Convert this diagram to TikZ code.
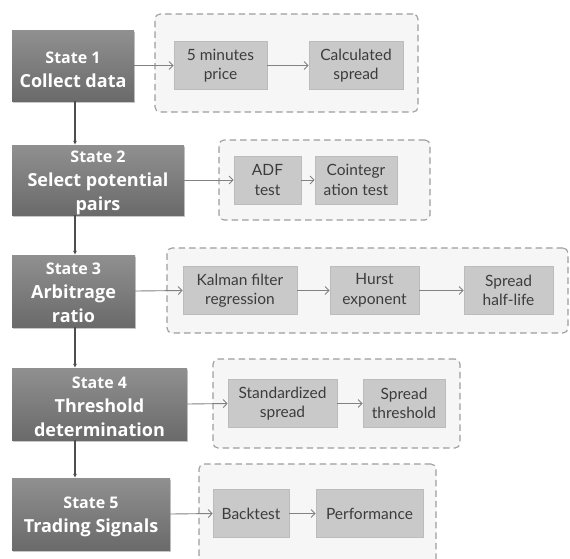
\documentclass[tikz,border=0pt]{standalone}
\usepackage{fontspec}
\newfontfamily\statefont{Open Sans}
\newfontfamily\boxfont{Lato}
\usetikzlibrary{arrows.meta,shadows,positioning}
\definecolor{sttop}{RGB}{144,144,144}
\definecolor{stbot}{RGB}{106,106,106}
\definecolor{inbox}{RGB}{201,201,201}
\definecolor{inborder}{RGB}{188,188,188}
\definecolor{grpfill}{RGB}{246,246,246}
\definecolor{grpline}{RGB}{158,158,158}
\definecolor{arrgray}{RGB}{130,130,130}
\definecolor{vgray}{RGB}{78,78,78}
\definecolor{intext}{RGB}{60,60,60}
\tikzset{
  statebox/.style={draw=none, top color=sttop, bottom color=stbot,
    drop shadow={shadow xshift=1.2pt, shadow yshift=-1.8pt, fill=black, opacity=0.22},
    inner sep=0pt},
  sttext/.style={text=white, align=center, inner sep=0pt, font=\statefont\bfseries\fontsize{18}{24}\selectfont},
  grp/.style={draw=grpline, fill=grpfill, dashed, dash pattern=on 6.5pt off 4pt, line width=1.1pt, rounded corners=5pt, inner sep=0pt},
  inner/.style={draw=inborder, fill=inbox, line width=0.6pt, align=center, inner sep=0pt,
    text=intext, font=\boxfont\fontsize{15.5}{19.5}\selectfont, minimum height=48},
  harr/.style={draw=arrgray, line width=0.9pt, -{Straight Barb[length=4pt,width=8pt]}},
  varr/.style={draw=vgray, line width=1.3pt, -{Latex[length=4pt,width=4pt]}}
}
\newcommand{\stl}[1]{{\fontsize{16}{24}\selectfont #1}}
\begin{document}
\begin{tikzpicture}[x=1pt,y=-1pt]
\useasboundingbox (0,0) rectangle (570,558);
\fill[white] (0,0) rectangle (570,558);
% groups
\node[grp, minimum width=263, minimum height=98] (g1) at (286.5,63) {};
\node[grp, minimum width=211, minimum height=80] (g2) at (324.5,180) {};
\node[grp, minimum width=401, minimum height=85] (g3) at (367.5,290.5) {};
\node[grp, minimum width=247, minimum height=89] (g4) at (336.5,403.5) {};
\node[grp, minimum width=237, minimum height=111] (g5) at (317.5,519.5) {};
% state boxes
\node[statebox, minimum width=122, minimum height=71] (s1) at (73,65.5) {};
\node[statebox, minimum width=172, minimum height=70] (s2) at (98,180) {};
\node[statebox, minimum width=123, minimum height=72] (s3) at (73.5,291) {};
\node[statebox, minimum width=175, minimum height=72] (s4) at (99.5,404) {};
\node[statebox, minimum width=158, minimum height=72] (s5) at (91,514) {};
\node[sttext] (t1) at ([yshift=-4pt]s1.center) {\stl{State 1}\\Collect data};
\node[sttext] (t2) at ([yshift=-3pt]s2.center) {\stl{State 2}\\Select potential\\pairs};
\node[sttext] (t3) at ([yshift=-2pt]s3.center) {\stl{State 3}\\Arbitrage\\ratio};
\node[sttext] (t4) at ([yshift=-3pt]s4.center) {\stl{State 4}\\Threshold\\determination};
\node[sttext] (t5) at ([yshift=-3pt]s5.center) {\stl{State 5}\\Trading Signals};
% inner boxes
\node[inner, minimum width=93] (a1) at (220.5,65.5) {5 minutes\\price};
\node[inner, minimum width=94] (a2) at (356,65.5) {Calculated\\spread};
\node[inner, minimum width=67] (b1) at (267.5,180) {ADF\\test};
\node[inner, minimum width=82] (b2) at (356,180) {Cointegr\\ation test};
\node[inner, minimum width=114] (c1) at (240,290.5) {Kalman filter\\regression};
\node[inner, minimum width=89] (c2) at (374.5,290.5) {Hurst\\exponent};
\node[inner, minimum width=89] (c3) at (508.5,290.5) {Spread\\half-life};
\node[inner, minimum width=109] (d1) at (282.5,403.5) {Standardized\\spread};
\node[inner, minimum width=82] (d2) at (404,403.5) {Spread\\threshold};
\node[inner, minimum width=76] (e1) at (251,513.5) {Backtest};
\node[inner, minimum width=107] (e2) at (369.5,513.5) {Performance};
% vertical connectors
\coordinate (vx) at (75,0);
\draw[varr] (s1.south -| vx) -- (s2.north -| vx);
\draw[varr] (s2.south -| vx) -- (s3.north -| vx);
\draw[varr] (s3.south -| vx) -- (s4.north -| vx);
\draw[varr] (s4.south -| vx) -- (s5.north -| vx);
% horizontal connectors
\draw[harr] (s1.east) -- (a1.west);
\draw[harr] (a1.east) -- (a2.west);
\draw[harr] (s2.east) -- (b1.west);
\draw[harr] (b1.east) -- (b2.west);
\draw[harr] (s3.east) -- (c1.west);
\draw[harr] (c1.east) -- (c2.west);
\draw[harr] (c2.east) -- (c3.west);
\draw[harr] (s4.east) -- (d1.west);
\draw[harr] (d1.east) -- (d2.west);
\draw[harr] (s5.east) -- (e1.west);
\draw[harr] (e1.east) -- (e2.west);
\end{tikzpicture}
\end{document}
